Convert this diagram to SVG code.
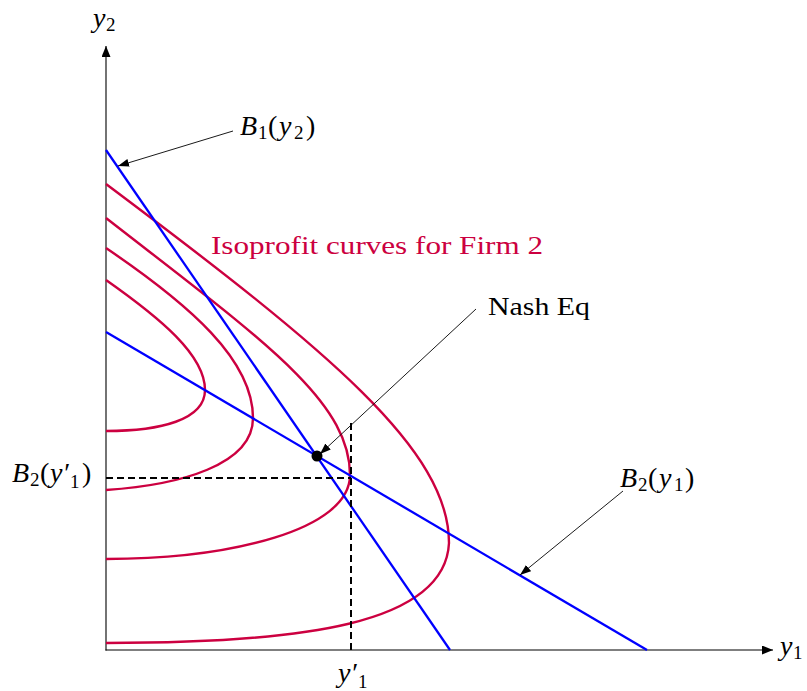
<svg xmlns="http://www.w3.org/2000/svg" width="807" height="691" viewBox="0 0 807 691">
<style>
.m{font-family:"Liberation Serif","DejaVu Serif",serif;font-size:28px;fill:#000}
.t{font-family:"Liberation Serif","DejaVu Serif",serif;font-size:26px;fill:#000}
.i{font-style:italic}
.s{font-size:19px}
.ax{stroke:#000;stroke-width:1.1;fill:none}
.ann{stroke:#000;stroke-width:0.9;fill:none}
.br{stroke:#0000ff;stroke-width:2.3;fill:none}
.iso{stroke:#cc0040;stroke-width:2.4;fill:none}
.dash{stroke:#000;stroke-width:2;fill:none;stroke-dasharray:7,4}
</style>
<defs>
<marker id="ah" markerUnits="userSpaceOnUse" markerWidth="12" markerHeight="10" refX="11" refY="4" orient="auto">
<path d="M0,0 L11,4 L0,8 z" fill="#000"/>
</marker>
<marker id="axh" markerUnits="userSpaceOnUse" markerWidth="12" markerHeight="10" refX="11" refY="4.5" orient="auto">
<path d="M0,0 L11,4.5 L0,9 z" fill="#000"/>
</marker>
</defs>
<g id="axes">
<line class="ax" x1="106" y1="650.5" x2="106" y2="46" marker-end="url(#axh)"/>
<line class="ax" x1="105.5" y1="650" x2="773" y2="650" marker-end="url(#axh)"/>
</g>
<g id="isoprofit-curves">
<path class="iso" d="M106,280 C160,318 205,355 205,390 C205,420 160,431 106,431"/>
<path class="iso" d="M106,248 C190,305 253,360 253,418 C253,465 180,485 106,490"/>
<path class="iso" d="M106,218 C260,338 350,400 350,475 C350,530 230,559 106,559"/>
<path class="iso" d="M106,184 C330,352 449,450 449,543 C445,625 300,643 106,643"/>
</g>
<g id="best-responses">
<line class="br" x1="106" y1="150" x2="450" y2="650"/>
<line class="br" x1="106" y1="332" x2="647" y2="650"/>
</g>
<g id="dashed-guides">
<line class="dash" x1="106" y1="478" x2="351" y2="478"/>
<line class="dash" x1="351" y1="423" x2="351" y2="650"/>
</g>
<g id="nash-point">
<circle cx="317" cy="456" r="5.5" fill="#000"/>
</g>
<g id="connectors">
<line class="ann" x1="233" y1="131" x2="118" y2="166" marker-end="url(#ah)"/>
<line class="ann" x1="476" y1="309" x2="320" y2="454" marker-end="url(#ah)"/>
<line class="ann" x1="623" y1="491" x2="520" y2="575" marker-end="url(#ah)"/>
</g>
<g id="label-y2">
<text class="m"><tspan x="93" y="27" class="i">y</tspan><tspan x="106" y="31" class="s">2</tspan></text>
</g>
<g id="label-y1">
<text class="m"><tspan x="780" y="655" class="i">y</tspan><tspan x="793" y="659" class="s">1</tspan></text>
</g>
<g id="label-B1">
<text class="m"><tspan x="240" y="135" class="i">B</tspan><tspan x="258" y="139" class="s">1</tspan><tspan x="268" y="135">(</tspan><tspan x="279" y="135" class="i">y</tspan><tspan x="294" y="139" class="s">2</tspan><tspan x="306" y="135">)</tspan></text>
</g>
<g id="label-isoprofit">
<text class="t" x="211" y="254" style="fill:#cc0040" textLength="332" lengthAdjust="spacingAndGlyphs">Isoprofit curves for Firm 2</text>
</g>
<g id="label-nash">
<text class="t" x="488" y="315" textLength="102" lengthAdjust="spacingAndGlyphs">Nash Eq</text>
</g>
<g id="label-B2y1">
<text class="m"><tspan x="620" y="487" class="i">B</tspan><tspan x="638" y="491" class="s">2</tspan><tspan x="648" y="487">(</tspan><tspan x="659" y="487" class="i">y</tspan><tspan x="674" y="491" class="s">1</tspan><tspan x="685" y="487">)</tspan></text>
</g>
<g id="label-B2y1prime">
<text class="m"><tspan x="12" y="482" class="i">B</tspan><tspan x="30" y="486" class="s">2</tspan><tspan x="40" y="482">(</tspan><tspan x="50" y="482" class="i">y′</tspan><tspan x="70" y="488" class="s">1</tspan><tspan x="82" y="482">)</tspan></text>
</g>
<g id="label-y1prime">
<text class="m"><tspan x="338" y="682" class="i">y′</tspan><tspan x="358" y="688" class="s">1</tspan></text>
</g>
</svg>
